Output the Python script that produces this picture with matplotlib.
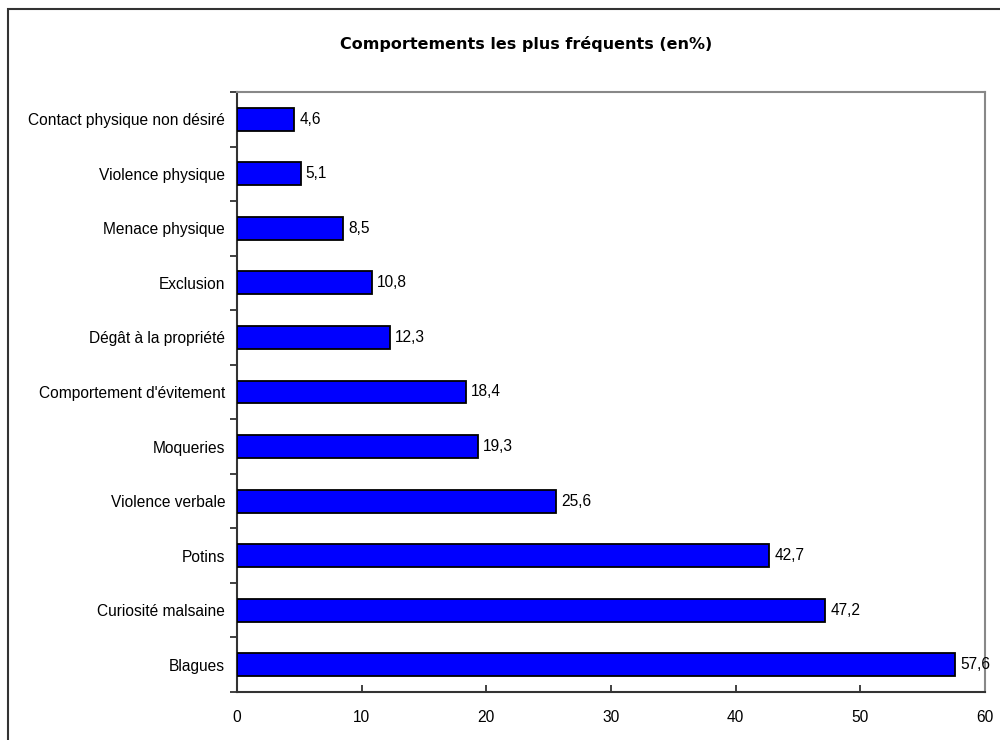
import matplotlib.pyplot as plt
from matplotlib.patches import Rectangle
import numpy as np

categories = ["Blagues", "Curiosité malsaine", "Potins", "Violence verbale",
              "Moqueries", "Comportement d'évitement", "Dégât à la propriété",
              "Exclusion", "Menace physique", "Violence physique",
              "Contact physique non désiré"]
values = [57.6, 47.2, 42.7, 25.6, 19.3, 18.4, 12.3, 10.8, 8.5, 5.1, 4.6]
value_labels = ["57,6", "47,2", "42,7", "25,6", "19,3", "18,4", "12,3",
                "10,8", "8,5", "5,1", "4,6"]
x_ticks = [0, 10, 20, 30, 40, 50, 60]

plt.rcParams['font.family'] = ['Liberation Sans', 'DejaVu Sans']

fig = plt.figure(figsize=(10, 7.4), dpi=100)
ax = fig.add_axes([0.237, 0.0649, 0.748, 0.8108])

# outer chart border (cut off at right/bottom in the reference)
fig.patches.append(Rectangle((0.008, -0.1), 1.2, 0.1 + 1 - 0.012,
                             transform=fig.transFigure, fill=False,
                             edgecolor="#333333", linewidth=1.5))

y = np.arange(len(categories))
ax.barh(y, values, height=0.42, color="#0000FF", edgecolor="black",
        linewidth=1.3, zorder=3)

for yi, v, lab in zip(y, values, value_labels):
    ax.text(v + 0.4, yi, lab, va="center", ha="left", fontsize=11.2)

ax.set_xlim(0, 60)
ax.set_ylim(-0.5, len(categories) - 0.5)
ax.set_xticks(x_ticks)
ax.set_xticklabels([str(t) for t in x_ticks], fontsize=11.2)
ax.set_yticks(y)
ax.set_yticklabels(categories, fontsize=11.2)
ax.set_yticks(np.arange(-0.5, len(categories), 1.0), minor=True)

ax.tick_params(axis="y", which="major", length=0, pad=8.5)
ax.tick_params(axis="y", which="minor", length=5, direction="out",
               width=1.3, color="#333333")
ax.tick_params(axis="x", which="major", length=5, direction="in",
               width=1.3, color="#333333", pad=13)

for side in ["left", "bottom"]:
    ax.spines[side].set_color("#333333")
    ax.spines[side].set_linewidth(1.5)
for side in ["top", "right"]:
    ax.spines[side].set_color("#888888")
    ax.spines[side].set_linewidth(1.5)

fig.text(0.526, 0.9405, "Comportements les plus fréquents (en%)",
         ha="center", va="center", fontsize=11.5, fontweight="heavy",
         family=["DejaVu Sans"])

fig.savefig("out.png", dpi=100)
